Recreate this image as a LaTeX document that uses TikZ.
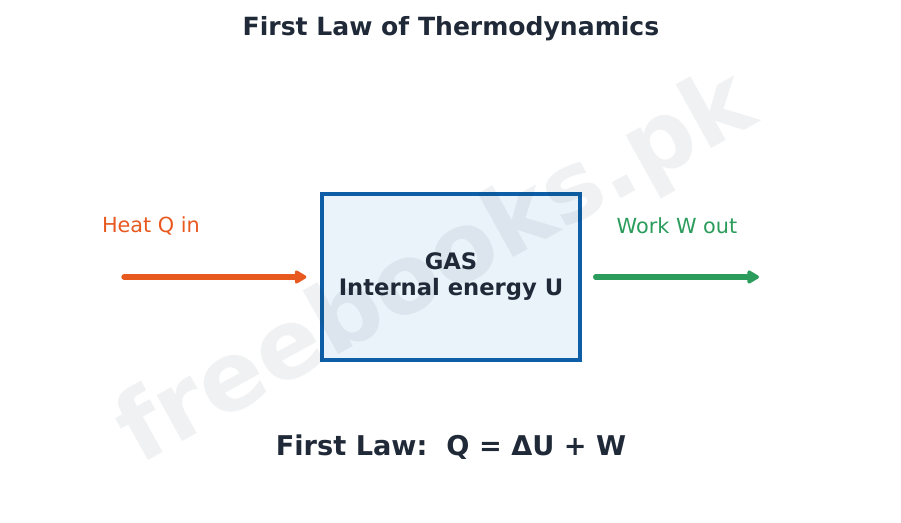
\documentclass[tikz,border=0pt]{standalone}
\usepackage{fontspec}
\setmainfont{DejaVu Sans}
\usetikzlibrary{arrows.meta,positioning}
\definecolor{inkdark}{HTML}{1F2937}
\definecolor{heatorange}{HTML}{E8591F}
\definecolor{workgreen}{HTML}{2B9C5B}
\definecolor{boxblue}{HTML}{0D5EA6}
\definecolor{boxfill}{HTML}{EAF2FA}

\begin{document}
\begin{tikzpicture}[x=0.75pt,y=-0.75pt]
    % Style definition for the system box and the flows
    \tikzset{gasbox/.style={rectangle, minimum width=194pt, minimum height=124pt, align=center,
             draw=boxblue, line width=3pt, fill=boxfill, text=inkdark,
             font=\fontsize{17}{19.5}\selectfont\bfseries}}
    \tikzstyle{flow} = [line width=4pt, line cap=round, -{Triangle[length=10pt,width=11pt,round]}]
    \tikzstyle{flowlabel} = [font=\fontsize{15.6}{18}\selectfont]

    \useasboundingbox (0,0) rectangle (901,523);

    % Title
    \node (title) at (451,29) [text=inkdark, font=\fontsize{18.8}{22}\selectfont\bfseries] {First Law of Thermodynamics};

    % System box
    \node (gas) at (451,277) [gasbox] {GAS\\Internal energy U};

    % Heat in and work out
    \coordinate (qstart) at (124,277);
    \coordinate (wend) at (759,277);
    \node (heat) at (151,226) [flowlabel, text=heatorange] {Heat Q in};
    \node (work) at (677,226) [flowlabel, text=workgreen] {Work W out};
    \draw [flow, heatorange, shorten >=10pt] (qstart) -- (gas.west);
    \draw [flow, workgreen, shorten <=10pt] (gas.east) -- (wend);

    % Watermark
    \node (mark) at (437,270) [rotate=29, opacity=0.065, text=inkdark,
          font=\fontsize{72}{80}\selectfont\bfseries] {freebooks.pk};

    % The law itself
    \node (law) at (451,447) [text=inkdark, font=\fontsize{20.4}{24}\selectfont\bfseries] {First Law:\ \ Q = ΔU + W};
\end{tikzpicture}
\end{document}
